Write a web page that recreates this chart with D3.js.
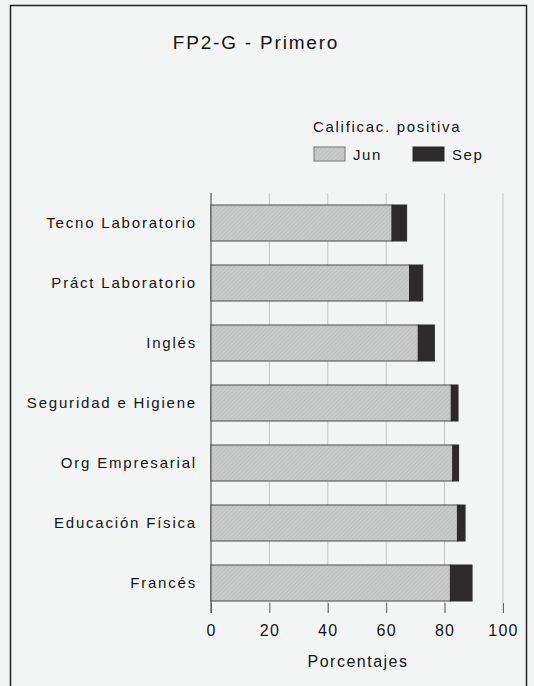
<!DOCTYPE html>
<html>
<head>
<meta charset="utf-8">
<script src="https://cdn.jsdelivr.net/npm/d3@7"></script>
<style>
  html, body { margin: 0; padding: 0; background: #f3f5f4; }
  text { font-family: 'Liberation Sans', Arial, sans-serif; fill: #141414; }
</style>
</head>
<body>
<script>
// data
const categories = ['Tecno Laboratorio', 'Práct Laboratorio', 'Inglés', 'Seguridad e Higiene', 'Org Empresarial', 'Educación Física', 'Francés'];
const jun = [62, 68, 71, 82.3, 82.8, 84.4, 82];
const sep = [5, 4.5, 5.5, 2.3, 2, 2.6, 7.4];
const xTicks = [0, 20, 40, 60, 80, 100];
const seriesNames = ['Jun', 'Sep'];

// setting canvas
const width = 534;
const height = 686;

const svg = d3.select('body').append('svg').attr('width', width).attr('height', height);

// hatched grey fill for Jun
const defs = svg.append('defs');
const pat = defs.append('pattern')
  .attr('id', 'hatch')
  .attr('patternUnits', 'userSpaceOnUse')
  .attr('width', 3)
  .attr('height', 3)
  .attr('patternTransform', 'rotate(45)');
pat.append('rect').attr('width', 3).attr('height', 3).attr('fill', '#c9cbcb');
pat.append('line').attr('x1', 0).attr('y1', 0).attr('x2', 0).attr('y2', 3)
  .attr('stroke', '#b4b6b6').attr('stroke-width', 1);

// frame
svg.append('rect')
  .attr('x', 10.5).attr('y', 5.5)
  .attr('width', 516).attr('height', 700)
  .attr('fill', 'none')
  .attr('stroke', '#222')
  .attr('stroke-width', 1.5);

// title
svg.append('text')
  .attr('x', 256).attr('y', 49)
  .attr('text-anchor', 'middle')
  .attr('font-size', '19px')
  .attr('letter-spacing', '1.8px')
  .text('FP2-G - Primero');

// scales
const x = d3.scaleLinear().domain([0, 100]).range([211, 503]);
const y = d3.scaleBand().domain(categories).range([193, 613]).paddingInner(0.4).paddingOuter(0.2);

// grid lines
svg.append('g')
  .selectAll('line')
  .data(xTicks.slice(1))
  .enter()
  .append('line')
  .attr('x1', (d) => x(d)).attr('x2', (d) => x(d))
  .attr('y1', 193).attr('y2', 613)
  .attr('stroke', '#c4c6c6')
  .attr('stroke-width', 1);

// x axis (ticks + labels only)
const xAxis = (g) =>
  g
    .attr('transform', 'translate(0, 613)')
    .call(d3.axisBottom(x).tickValues(xTicks).tickSize(-10).tickPadding(12))
    .call((g) => g.select('.domain').remove())
    .call((g) => g.selectAll('.tick line').attr('stroke', '#666'))
    .call((g) => g.selectAll('.tick text')
      .attr('font-size', '16px')
      .attr('letter-spacing', '1.3px')
      .attr('font-family', "'Liberation Sans', Arial, sans-serif")
      .attr('fill', '#141414'));
svg.append('g').call(xAxis);

// y axis line
svg.append('line')
  .attr('x1', x(0)).attr('x2', x(0))
  .attr('y1', 193).attr('y2', 613)
  .attr('stroke', '#555')
  .attr('stroke-width', 1.2);

// category labels
svg.append('g')
  .selectAll('text')
  .data(categories)
  .enter()
  .append('text')
  .attr('x', 197)
  .attr('y', (d) => y(d) + y.bandwidth() / 2 + 5)
  .attr('text-anchor', 'end')
  .attr('font-size', '15px')
  .attr('letter-spacing', '1.8px')
  .text((d) => d);

// stacked bars
const rows = categories.map((c, i) => ({ cat: c, jun: jun[i], sep: sep[i] }));

svg.append('g')
  .selectAll('rect')
  .data(rows)
  .enter()
  .append('rect')
  .attr('x', x(0))
  .attr('y', (d) => y(d.cat))
  .attr('width', (d) => x(d.jun) - x(0))
  .attr('height', y.bandwidth())
  .attr('fill', 'url(#hatch)')
  .attr('stroke', '#4a4a4a')
  .attr('stroke-width', 1);

svg.append('g')
  .selectAll('rect')
  .data(rows)
  .enter()
  .append('rect')
  .attr('x', (d) => x(d.jun))
  .attr('y', (d) => y(d.cat))
  .attr('width', (d) => x(d.jun + d.sep) - x(d.jun))
  .attr('height', y.bandwidth())
  .attr('fill', '#2d2a2c')
  .attr('stroke', '#2d2a2c')
  .attr('stroke-width', 1);

// x axis title
svg.append('text')
  .attr('x', 358).attr('y', 667)
  .attr('text-anchor', 'middle')
  .attr('font-size', '16px')
  .attr('letter-spacing', '1.5px')
  .text('Porcentajes');

// legend
svg.append('text')
  .attr('x', 313).attr('y', 132)
  .attr('font-size', '15px')
  .attr('letter-spacing', '1.7px')
  .text('Calificac. positiva');

const legend = svg.append('g')
  .selectAll('g')
  .data(seriesNames)
  .enter()
  .append('g')
  .attr('transform', (d, i) => `translate(${314 + i * 99}, 147)`);

legend.append('rect')
  .attr('width', 31).attr('height', 14)
  .attr('fill', (d, i) => (i === 0 ? 'url(#hatch)' : '#2d2a2c'))
  .attr('stroke', (d, i) => (i === 0 ? '#777' : '#2d2a2c'));

legend.append('text')
  .attr('x', 39).attr('y', 13)
  .attr('font-size', '15px')
  .attr('letter-spacing', '1.6px')
  .text((d) => d);
</script>
</body>
</html>
